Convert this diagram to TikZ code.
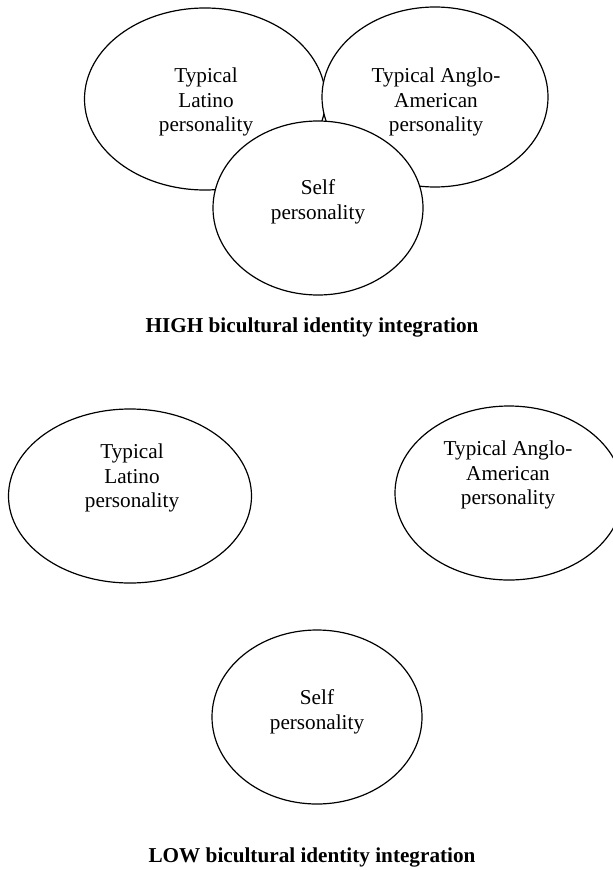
\documentclass[tikz,border=0pt]{standalone}
\usepackage{fontspec}
\setmainfont{Liberation Serif}
\usetikzlibrary{shapes.geometric}

\begin{document}
\begin{tikzpicture}[x=0.75pt, y=-0.75pt,
    persona/.style={ellipse, draw=black, line width=0.9pt, fill=white, inner sep=0pt},
    lbl/.style={align=center, inner sep=0pt, font=\fontsize{15.9}{18.4}\selectfont},
    caption/.style={inner sep=0pt, font=\fontsize{15.9}{18.4}\selectfont\bfseries}]
    \useasboundingbox (0,0) rectangle (613,870);

    % high integration: overlapping
    \node[persona, minimum width=180.75pt, minimum height=136.5pt] (latinoHigh) at (205,99) {};
    \node[persona, minimum width=169.5pt, minimum height=135pt] (angloHigh) at (435,97) {};
    \node[persona, minimum width=157.5pt, minimum height=130.5pt] (selfHigh) at (318,208) {};
    \node[lbl] (latinoHighTxt) at (206,102) {Typical\\Latino\\personality};
    \node[lbl] (angloHighTxt) at (436,102) {Typical Anglo-\\American\\personality};
    \node[lbl] (selfHighTxt) at (318,202) {Self\\personality};
    \node[caption] (high) at (312,327) {HIGH bicultural identity integration};

    % low integration: apart
    \node[persona, minimum width=182.25pt, minimum height=130.5pt] (latinoLow) at (130,496) {};
    \node[persona, minimum width=171pt, minimum height=130.5pt] (angloLow) at (509,493) {};
    \node[persona, minimum width=157.5pt, minimum height=130.5pt] (selfLow) at (317,717) {};
    \node[lbl] (latinoLowTxt) at (132,478) {Typical\\Latino\\personality};
    \node[lbl] (angloLowTxt) at (508,475) {Typical Anglo-\\American\\personality};
    \node[lbl] (selfLowTxt) at (317,712) {Self\\personality};
    \node[caption] (low) at (312,857) {LOW bicultural identity integration};
\end{tikzpicture}
\end{document}
